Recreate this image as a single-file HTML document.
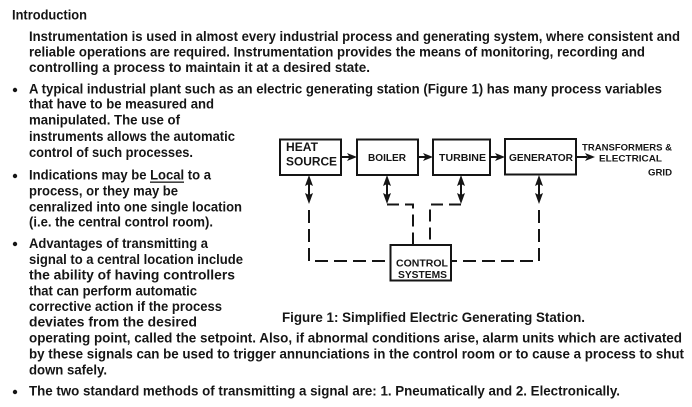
<!DOCTYPE html>
<html>
<head>
<meta charset="utf-8">
<style>
html,body{margin:0;padding:0;background:#fff;}
body{width:692px;height:407px;overflow:hidden;}
svg{display:block;}
text{font-family:"Liberation Sans",Arial,sans-serif;font-weight:bold;fill:#151515;}
</style>
</head>
<body>
<svg width="692" height="407" viewBox="0 0 692 407" xmlns="http://www.w3.org/2000/svg">
<rect width="692" height="407" fill="#fff"/>
<g font-size="14">
<text x="12" y="19.5" textLength="75" lengthAdjust="spacingAndGlyphs" font-size="13.5">Introduction</text>
<text x="29" y="41" textLength="651" lengthAdjust="spacingAndGlyphs">Instrumentation is used in almost every industrial process and generating system, where consistent and</text>
<text x="29" y="56.5" textLength="616" lengthAdjust="spacingAndGlyphs">reliable operations are required.  Instrumentation provides the means of monitoring, recording and</text>
<text x="29" y="72" textLength="341" lengthAdjust="spacingAndGlyphs">controlling a process to maintain it at a desired state.</text>
<circle cx="15" cy="90" r="2.2" fill="#151515"/>
<text x="29" y="93.5" textLength="633" lengthAdjust="spacingAndGlyphs">A typical industrial plant such as an electric generating station (Figure 1) has many process variables</text>
<text x="29" y="108.5" textLength="185" lengthAdjust="spacingAndGlyphs">that have to be measured and</text>
<text x="29" y="124.5" textLength="151" lengthAdjust="spacingAndGlyphs">manipulated. The use of</text>
<text x="29" y="141" textLength="206" lengthAdjust="spacingAndGlyphs">instruments allows the automatic</text>
<text x="29" y="157" textLength="164" lengthAdjust="spacingAndGlyphs">control of such processes.</text>
<circle cx="15" cy="176" r="2.2" fill="#151515"/>
<text x="29" y="179.5" textLength="182" lengthAdjust="spacingAndGlyphs">Indications may be Local to a</text>
<rect x="150" y="181.5" width="34" height="1.3" fill="#151515"/>
<text x="29" y="195.5" textLength="149" lengthAdjust="spacingAndGlyphs">process, or they may be</text>
<text x="29" y="211.5" textLength="213" lengthAdjust="spacingAndGlyphs">cenralized into one single location</text>
<text x="29" y="226.5" textLength="184" lengthAdjust="spacingAndGlyphs">(i.e. the central control room).</text>
<circle cx="15" cy="244" r="2.2" fill="#151515"/>
<text x="29" y="248" textLength="179" lengthAdjust="spacingAndGlyphs">Advantages of transmitting a</text>
<text x="29" y="264" textLength="214" lengthAdjust="spacingAndGlyphs">signal to a central location include</text>
<text x="29" y="279.5" textLength="206" lengthAdjust="spacingAndGlyphs">the ability of having controllers</text>
<text x="29" y="295.5" textLength="168" lengthAdjust="spacingAndGlyphs">that can perform automatic</text>
<text x="29" y="311" textLength="193" lengthAdjust="spacingAndGlyphs">corrective action if the process</text>
<text x="29" y="326.5" textLength="168" lengthAdjust="spacingAndGlyphs">deviates from the desired</text>
<text x="29" y="342.5" textLength="653" lengthAdjust="spacingAndGlyphs">operating point, called the setpoint.  Also, if abnormal conditions arise, alarm units which are activated</text>
<text x="29" y="358.5" textLength="655" lengthAdjust="spacingAndGlyphs">by these signals can be used to trigger annunciations in the control room or to cause a process to shut</text>
<text x="29" y="374.5" textLength="78" lengthAdjust="spacingAndGlyphs">down safely.</text>
<circle cx="15" cy="392" r="2.2" fill="#151515"/>
<text x="29" y="395.5" textLength="591" lengthAdjust="spacingAndGlyphs">The two standard methods of transmitting a signal are: 1. Pneumatically and   2. Electronically.</text>
<text x="282" y="322" textLength="303" lengthAdjust="spacingAndGlyphs">Figure 1:  Simplified Electric Generating Station.</text>
</g>

<!-- Diagram boxes -->
<g fill="none" stroke="#151515" stroke-width="2">
<rect x="280" y="139.5" width="61" height="35.5"/>
<rect x="357" y="139.5" width="61" height="35.5"/>
<rect x="433" y="139.5" width="57" height="35.5"/>
<rect x="505" y="139" width="71" height="35.5"/>
<rect x="390.5" y="245" width="60.5" height="35.5"/>
</g>

<!-- box labels -->
<text x="286" y="151" font-size="12" textLength="32" lengthAdjust="spacingAndGlyphs">HEAT</text>
<text x="286" y="165.5" font-size="12" textLength="51" lengthAdjust="spacingAndGlyphs">SOURCE</text>
<text x="368" y="161" font-size="10.5" textLength="38" lengthAdjust="spacingAndGlyphs">BOILER</text>
<text x="439" y="161" font-size="10.5" textLength="47" lengthAdjust="spacingAndGlyphs">TURBINE</text>
<text x="509" y="161" font-size="10.5" textLength="64" lengthAdjust="spacingAndGlyphs">GENERATOR</text>
<text x="396" y="266.5" font-size="10" textLength="52" lengthAdjust="spacingAndGlyphs">CONTROL</text>
<text x="398" y="278" font-size="10" textLength="49" lengthAdjust="spacingAndGlyphs">SYSTEMS</text>
<text x="582" y="150.5" font-size="9" textLength="90" lengthAdjust="spacingAndGlyphs">TRANSFORMERS &amp;</text>
<text x="599" y="161.5" font-size="9" textLength="63" lengthAdjust="spacingAndGlyphs">ELECTRICAL</text>
<text x="648" y="175.5" font-size="9" textLength="24" lengthAdjust="spacingAndGlyphs">GRID</text>

<!-- horizontal arrows -->
<g stroke="#151515" stroke-width="2" fill="none">
<line x1="341" y1="157" x2="350" y2="157"/>
<line x1="418" y1="157" x2="426" y2="157"/>
<line x1="490" y1="157" x2="498" y2="157"/>
<line x1="576" y1="157" x2="587" y2="157"/>
</g>
<g fill="#151515">
<polygon points="347,153 357,157 347,161 349.5,157"/>
<polygon points="423,153 433,157 423,161 425.5,157"/>
<polygon points="495,153 505,157 495,161 497.5,157"/>
<polygon points="585,153 595,157 585,161 587.5,157"/>
</g>

<!-- vertical double arrows -->
<g stroke="#151515" stroke-width="2" fill="none">
<line x1="309" y1="180" x2="309" y2="200"/>
<line x1="387" y1="180" x2="387" y2="200"/>
<line x1="461" y1="180" x2="461" y2="200"/>
<line x1="539" y1="180" x2="539" y2="200"/>
</g>
<g fill="#151515">
<polygon points="309,175 313,186 309,184 305,186"/>
<polygon points="309,204 313,193 309,195 305,193"/>
<polygon points="387,175 391,186 387,184 383,186"/>
<polygon points="387,204 391,193 387,195 383,193"/>
<polygon points="461,175 465,186 461,184 457,186"/>
<polygon points="461,204 465,193 461,195 457,193"/>
<polygon points="539,175 543,186 539,184 535,186"/>
<polygon points="539,204 543,193 539,195 535,193"/>
</g>

<!-- dashed connectors -->
<g stroke="#151515" stroke-width="2" fill="none" stroke-dasharray="13 6">
<path d="M309,210 V261 H390"/>
<path d="M387,204.5 H413 V245" stroke-dasharray="12 6"/>
<path d="M461,204.5 H430 V245" stroke-dasharray="12 6"/>
<path d="M539,210 V261 H451"/>
</g>
</svg>
</body>
</html>
